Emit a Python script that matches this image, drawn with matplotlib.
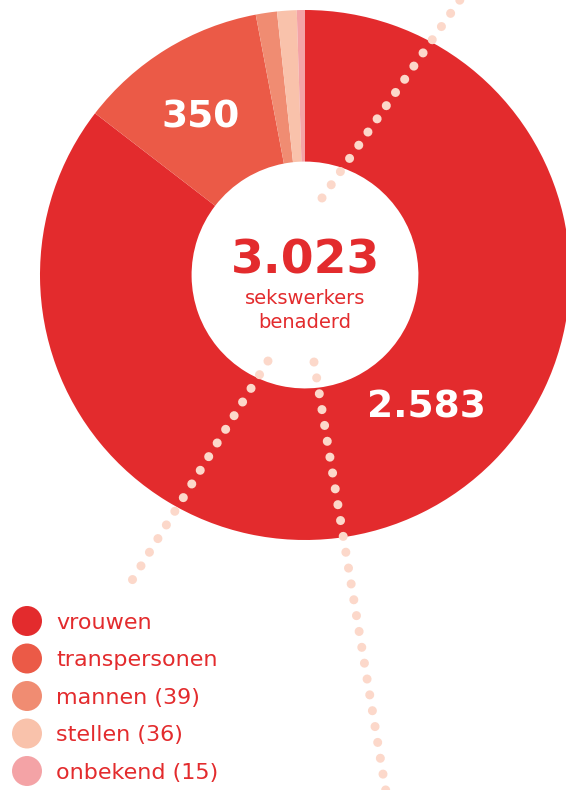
import matplotlib.pyplot as plt

# Data
groups = ["vrouwen", "transpersonen", "mannen", "stellen", "onbekend"]
counts = [2583, 350, 39, 36, 15]
legend_labels = ["vrouwen", "transpersonen", "mannen (39)", "stellen (36)", "onbekend (15)"]
colors = ['#e32b2d', '#eb5a47', '#f08c72', '#f9c2ab', '#f4a3a6']
total_label = "3.023"

W, H = 566, 790
red = '#e32b2d'
dot_color = '#fcd8ca'

fig = plt.figure(figsize=(W / 100, H / 100), dpi=100)
ax = fig.add_axes([0, 0, 1, 1])

def py(y):
    # pixel-from-top to axes y
    return H - y

# Donut
cx, cy, r = 305, py(275), 265
wedges, _ = ax.pie(counts, colors=colors, startangle=90, counterclock=False,
                   center=(cx, cy), radius=r, frame=True,
                   wedgeprops=dict(width=r * 0.572, linewidth=0))
ax.set_xlim(0, W)
ax.set_ylim(0, H)
ax.set_aspect('equal')
ax.axis('off')

# Values inside the ring
ax.text(201, py(117), f"{counts[1]}", color='white', fontsize=27, fontweight='bold',
        family='DejaVu Sans', ha='center', va='center')
ax.text(426, py(407), f"{counts[0]:,}".replace(",", "."), color='white', fontsize=27,
        fontweight='bold', family='DejaVu Sans', ha='center', va='center')

# Center text
ax.text(cx, py(261), total_label, color=red, fontsize=34, fontweight='bold',
        family='DejaVu Sans', ha='center', va='center')
ax.text(cx, py(298), "sekswerkers", color=red, fontsize=14, family='DejaVu Sans',
        ha='center', va='center')
ax.text(cx, py(322), "benaderd", color=red, fontsize=14, family='DejaVu Sans',
        ha='center', va='center')

# Decorative dotted lines
dotted = [((322, 198), (462, -3)), ((268, 361), (131, 582)), ((314, 362), (386, 792))]
for (x0, y0), (x1, y1) in dotted:
    ax.plot([x0, x1], [py(y0), py(y1)], color=dot_color, linewidth=6.5,
            linestyle=(0, (0.01, 1.77)), dash_capstyle='round', zorder=5)

# Legend
for i, (lab, col) in enumerate(zip(legend_labels, colors)):
    y = 621 + i * 37.5
    ax.scatter([27], [py(y)], s=466, color=col, edgecolors='none', zorder=6)
    ax.text(56, py(y + 2), lab, color=red, fontsize=16, family='DejaVu Sans',
            ha='left', va='center')

fig.savefig('out.png', dpi=100)
